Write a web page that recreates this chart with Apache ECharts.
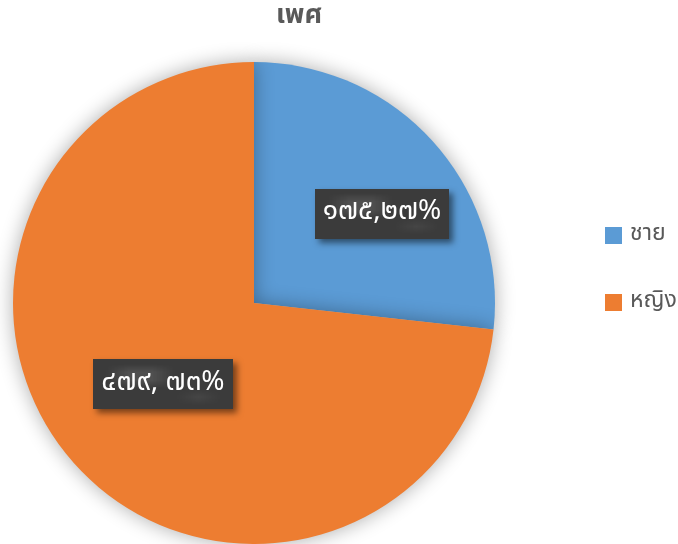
<!DOCTYPE html>
<html><head><meta charset="utf-8">
<script src="https://cdn.jsdelivr.net/npm/echarts@6/dist/echarts.min.js"></script>
<style>html,body{margin:0;padding:0;background:#fff}#c{width:678px;height:544px}</style>
</head><body><div id="c"></div>
<script>
const titleText = 'เพศ';
const categories = ['ชาย', 'หญิง'];
const values = [175, 479];
const percents = [27, 73];
const separators = [',', ', '];
const colors = ['#5B9BD5', '#ED7D31'];

const thaiDigits = '๐๑๒๓๔๕๖๗๘๙';
function toThai(n){ return String(n).replace(/[0-9]/g, d => thaiDigits[+d]); }

// dotted dark pattern for label boxes
const pc = document.createElement('canvas');
pc.width = 6; pc.height = 6;
const pctx = pc.getContext('2d');
pctx.fillStyle = '#3b3b3b'; pctx.fillRect(0,0,6,6);
pctx.fillStyle = '#505050'; pctx.fillRect(1,1,2,2);
pctx.fillStyle = '#464646'; pctx.fillRect(4,4,1,1);

const FONT = '"Noto Sans Thai","Noto Sans","Tahoma","DejaVu Sans",sans-serif';
const chart = echarts.init(document.getElementById('c'));
chart.setOption({
  backgroundColor: '#ffffff',
  title: {
    text: titleText, left: 271, top: -1,
    textStyle: {fontSize: 27, fontWeight: 'bold', color: '#595959', fontFamily: FONT}
  },
  legend: {
    orient: 'vertical', left: 600, top: 219, padding: 5,
    itemWidth: 17, itemHeight: 17, itemGap: 44, icon: 'rect',
    textStyle: {fontSize: 23, color: '#595959', fontFamily: FONT, padding: [0, 0, 0, 3]},
    data: categories
  },
  series: [{
    type: 'pie',
    center: [254, 303],
    radius: 241,
    startAngle: 90,
    clockwise: true,
    silent: true,
    itemStyle: {shadowBlur: 20, shadowColor: 'rgba(0,0,0,0.33)'},
    label: {
      show: true, position: 'inner',
      formatter: p => toThai(values[p.dataIndex]) + separators[p.dataIndex] + toThai(percents[p.dataIndex]) + '%',
      color: '#ffffff', fontSize: 28, fontWeight: 'normal', fontFamily: FONT,
      backgroundColor: {image: pc},
      padding: [12, 8, 10, 8],
      shadowColor: 'rgba(0,0,0,0.5)', shadowBlur: 6, shadowOffsetX: 4, shadowOffsetY: 4,
      textShadowBlur: 0
    },
    labelLine: {show: false},
    labelLayout: p => p.dataIndex === 0 ? {dx: 36, dy: -7} : {dx: 1, dy: -1},
    data: categories.map((c, i) => ({name: c, value: values[i], itemStyle: {color: colors[i]}}))
  }]
});
</script></body></html>
